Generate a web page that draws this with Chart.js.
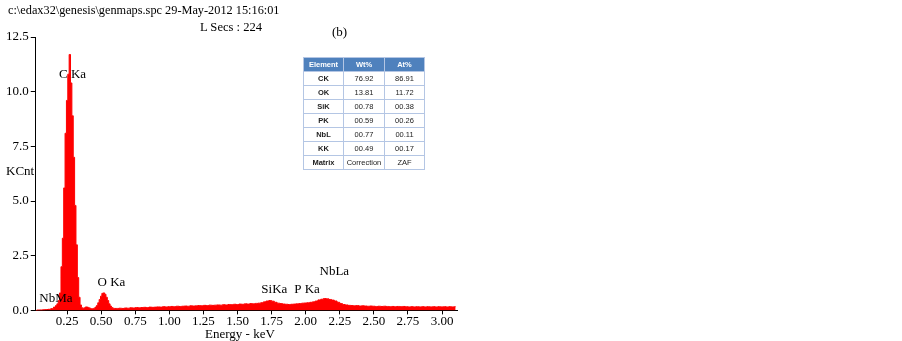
<!DOCTYPE html>
<html>
<head>
<meta charset="utf-8">
<script src="https://cdn.jsdelivr.net/npm/chart.js@4.4.0/dist/chart.umd.min.js"></script>
<style>
  body { margin: 0; background: #fff; }
  #wrap { position: relative; width: 902px; height: 341px; font-family: "Liberation Serif", serif; color: #000; }
  #chart { position: absolute; left: 0; top: 0; }
  .txt { position: absolute; font-size: 13px; white-space: nowrap; line-height: 1; }
  #results { position: absolute; left: 303px; top: 57px; width: 121px; border-collapse: collapse; table-layout: fixed;
             font-family: "Liberation Sans", sans-serif; font-size: 7.5px; color: #222; }
  #results td, #results th { border: 1px solid #b4c6e4; height: 13px; padding: 0; text-align: center; overflow: hidden; }
  #results th { background: #4f81bd; color: #fff; font-weight: bold; }
  #results td:first-child { font-weight: bold; }
</style>
</head>
<body>
<div id="wrap">
  <canvas id="chart" width="902" height="341"></canvas>
  <div class="txt" style="left:8px;top:4px;font-size:12.3px;">c:\edax32\genesis\genmaps.spc 29-May-2012 15:16:01</div>
  <div class="txt" style="left:200px;top:21px;font-size:12.6px;">L Secs : 224</div>
  <div class="txt" style="left:332px;top:25px;">(b)</div>
  <div class="txt" style="left:6px;top:164px;">KCnt</div>
  <div class="txt" style="left:205px;top:327px;">Energy - keV</div>
  <table id="results"><colgroup><col style="width:40px"><col style="width:41px"><col style="width:40px"></colgroup></table>
</div>
<script>
// spectrum, energy in keV and counts in KCnt
const energyKeV = [
  0.02, 0.04, 0.06, 0.08, 0.10, 0.12, 0.14, 0.16, 0.17,
  0.18, 0.19, 0.20, 0.21, 0.22, 0.23, 0.24, 0.25, 0.26, 0.27, 0.28, 0.29,
  0.30, 0.31, 0.32, 0.33, 0.34, 0.35, 0.36, 0.37, 0.38, 0.39,
  0.40, 0.41, 0.42, 0.43, 0.44, 0.45, 0.46, 0.47, 0.48, 0.49,
  0.50, 0.51, 0.52, 0.53, 0.54, 0.55, 0.56, 0.57, 0.58, 0.59, 0.60,
  0.62, 0.64, 0.66, 0.68, 0.70, 0.72, 0.74, 0.76, 0.78, 0.80,
  0.82, 0.84, 0.86, 0.88, 0.90, 0.92, 0.94, 0.96, 0.98, 1.00,
  1.02, 1.04, 1.06, 1.08, 1.10, 1.12, 1.14, 1.16, 1.18, 1.20,
  1.22, 1.24, 1.26, 1.28, 1.30, 1.32, 1.34, 1.36, 1.38, 1.40,
  1.42, 1.44, 1.46, 1.48, 1.50, 1.52, 1.54, 1.56, 1.58, 1.60,
  1.62, 1.64, 1.66, 1.68, 1.70, 1.72, 1.74, 1.76, 1.78, 1.80,
  1.82, 1.84, 1.86, 1.88, 1.90, 1.92, 1.94, 1.96, 1.98, 2.00,
  2.02, 2.04, 2.06, 2.08, 2.10, 2.12, 2.14, 2.16, 2.18, 2.20,
  2.22, 2.24, 2.26, 2.28, 2.30, 2.32, 2.34, 2.36, 2.38, 2.40,
  2.42, 2.44, 2.46, 2.48, 2.50, 2.52, 2.54, 2.56, 2.58, 2.60,
  2.62, 2.64, 2.66, 2.68, 2.70, 2.72, 2.74, 2.76, 2.78, 2.80,
  2.82, 2.84, 2.86, 2.88, 2.90, 2.92, 2.94, 2.96, 2.98, 3.00,
  3.02, 3.04, 3.06, 3.08, 3.10
];
const kcnt = [
  0.00, 0.02, 0.02, 0.03, 0.04, 0.05, 0.08, 0.15, 0.22,
  0.30, 0.45, 0.80, 2.00, 3.30, 5.60, 8.10, 9.60, 10.8, 11.7, 10.4, 8.90,
  7.00, 4.80, 3.00, 1.50, 0.60, 0.25, 0.12, 0.10, 0.12, 0.16,
  0.15, 0.12, 0.10, 0.08, 0.08, 0.10, 0.15, 0.22, 0.35, 0.50,
  0.65, 0.78, 0.80, 0.74, 0.60, 0.45, 0.30, 0.20, 0.13, 0.10, 0.09,
  0.09, 0.10, 0.09, 0.11, 0.10, 0.12, 0.11, 0.13, 0.12, 0.13,
  0.14, 0.13, 0.15, 0.14, 0.15, 0.16, 0.15, 0.17, 0.16, 0.17,
  0.18, 0.17, 0.19, 0.18, 0.19, 0.20, 0.19, 0.21, 0.20, 0.21,
  0.22, 0.21, 0.23, 0.22, 0.24, 0.23, 0.24, 0.25, 0.24, 0.26,
  0.25, 0.27, 0.26, 0.28, 0.27, 0.29, 0.28, 0.30, 0.29, 0.31,
  0.30, 0.32, 0.33, 0.35, 0.39, 0.43, 0.45, 0.42, 0.37, 0.33,
  0.31, 0.29, 0.28, 0.27, 0.28, 0.29, 0.30, 0.31, 0.33, 0.34,
  0.35, 0.37, 0.39, 0.43, 0.48, 0.51, 0.54, 0.53, 0.50, 0.47,
  0.43, 0.37, 0.31, 0.27, 0.25, 0.23, 0.22, 0.21, 0.22, 0.20,
  0.21, 0.20, 0.19, 0.20, 0.19, 0.18, 0.19, 0.18, 0.19, 0.18,
  0.17, 0.18, 0.17, 0.18, 0.17, 0.18, 0.17, 0.16, 0.17, 0.16,
  0.17, 0.16, 0.17, 0.16, 0.17, 0.16, 0.17, 0.16, 0.17, 0.16,
  0.17, 0.16, 0.17, 0.16, 0.17
];

const xTicks = [0.25, 0.50, 0.75, 1.00, 1.25, 1.50, 1.75, 2.00, 2.25, 2.50, 2.75, 3.00];
const yTicks = [0, 2.5, 5.0, 7.5, 10.0, 12.5];

// peak labels, placed at (energy, kcnt)
const peakNames = ['NbMa', 'C Ka', 'O Ka', 'SiKa', 'P Ka', 'NbLa'];
const peakLabelKeV = [0.168, 0.29, 0.575, 1.77, 2.01, 2.21];
const peakLabelKcnt = [0.53, 10.8, 1.27, 0.94, 0.94, 1.77];

// quantification table
const tableHeader = ['Element', 'Wt%', 'At%'];
const elements = ['CK', 'OK', 'SiK', 'PK', 'NbL', 'KK', 'Matrix'];
const wtPct = ['76.92', '13.81', '00.78', '00.59', '00.77', '00.49', 'Correction'];
const atPct = ['86.91', '11.72', '00.38', '00.26', '00.11', '00.17', 'ZAF'];

const table = document.getElementById('results');
let html = '<tr>' + tableHeader.map(h => `<th>${h}</th>`).join('') + '</tr>';
elements.forEach((el, i) => {
    html += `<tr><td>${el}</td><td>${wtPct[i]}</td><td>${atPct[i]}</td></tr>`;
});
table.insertAdjacentHTML('beforeend', html);

const serif = { family: '"Liberation Serif", serif', size: 13 };

const peakLabelPlugin = {
    id: 'peakLabels',
    afterDatasetsDraw(chart) {
        const { ctx, scales } = chart;
        ctx.save();
        ctx.font = '13px "Liberation Serif", serif';
        ctx.fillStyle = '#000';
        ctx.textAlign = 'center';
        ctx.textBaseline = 'middle';
        peakNames.forEach((name, i) => {
            ctx.fillText(name, scales.x.getPixelForValue(peakLabelKeV[i]), scales.y.getPixelForValue(peakLabelKcnt[i]));
        });
        ctx.restore();
    }
};

new Chart(document.getElementById('chart'), {
    type: 'line',
    data: {
        datasets: [{
            data: energyKeV.map((e, i) => ({ x: e, y: kcnt[i] })),
            borderColor: '#ff0000',
            backgroundColor: '#ff0000',
            borderWidth: 1,
            pointRadius: 0,
            stepped: 'middle',
            fill: 'origin'
        }]
    },
    options: {
        responsive: false,
        animation: false,
        layout: { padding: { left: 4, right: 445, top: 37, bottom: 13 } },
        plugins: { legend: { display: false }, tooltip: { enabled: false } },
        scales: {
            x: {
                type: 'linear',
                min: 0.02,
                max: 3.11,
                afterBuildTicks: scale => { scale.ticks = xTicks.map(v => ({ value: v })); },
                grid: { drawOnChartArea: false, tickLength: 4, color: '#000' },
                border: { color: '#000' },
                ticks: { color: '#000', font: serif, padding: -1, maxRotation: 0, autoSkip: false,
                         callback: v => v.toFixed(2) }
            },
            y: {
                min: 0,
                max: 12.5,
                afterBuildTicks: scale => { scale.ticks = yTicks.map(v => ({ value: v })); },
                grid: { drawOnChartArea: false, tickLength: 5, color: '#000' },
                border: { color: '#000' },
                ticks: { color: '#000', font: serif, padding: 2, callback: v => v.toFixed(1) }
            }
        }
    },
    plugins: [peakLabelPlugin]
});
</script>
</body>
</html>
